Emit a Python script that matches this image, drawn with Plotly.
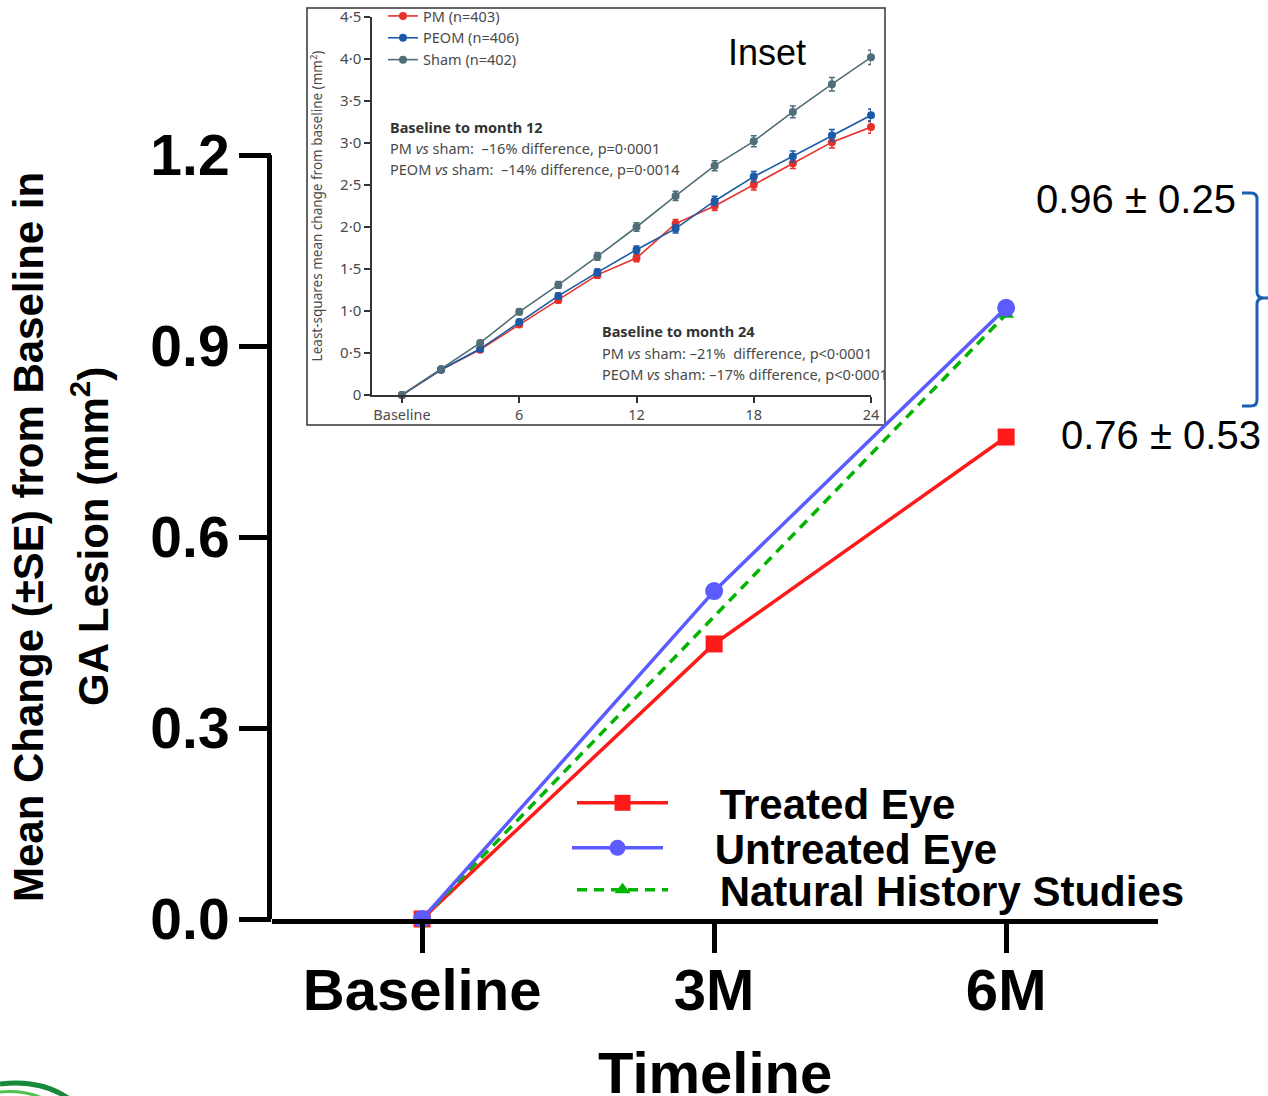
import plotly.graph_objects as go

# ---------------- Main chart data ----------------
timepoints = ["Baseline", "3M", "6M"]
treated_eye = [0.0, 0.432, 0.757]
untreated_eye = [0.0, 0.515, 0.960]
natural_x = ["Baseline", "6M"]
natural_history = [0.0, 0.950]
y_tick_vals = [0.0, 0.3, 0.6, 0.9, 1.2]
y_tick_text = ["0.0", "0.3", "0.6", "0.9", "1.2"]

# ---------------- Inset data ----------------
inset_months = [0, 2, 4, 6, 8, 10, 12, 14, 16, 18, 20, 22, 24]
pm_vals = [0.0, 0.30, 0.54, 0.84, 1.13, 1.43, 1.63, 2.04, 2.25, 2.50, 2.76, 3.01, 3.19]
pm_se = [0.0, 0.02, 0.03, 0.03, 0.035, 0.04, 0.045, 0.05, 0.055, 0.06, 0.065, 0.07, 0.075]
peom_vals = [0.0, 0.30, 0.55, 0.87, 1.18, 1.46, 1.73, 1.98, 2.31, 2.60, 2.84, 3.09, 3.33]
peom_se = [0.0, 0.02, 0.03, 0.03, 0.035, 0.04, 0.045, 0.05, 0.055, 0.06, 0.065, 0.07, 0.075]
sham_vals = [0.0, 0.31, 0.62, 0.99, 1.31, 1.65, 2.00, 2.37, 2.73, 3.02, 3.37, 3.70, 4.02]
sham_se = [0.0, 0.02, 0.03, 0.035, 0.04, 0.045, 0.05, 0.055, 0.06, 0.065, 0.07, 0.08, 0.085]
inset_x_ticks = [0, 6, 12, 18, 24]
inset_x_text = ["Baseline", "6", "12", "18", "24"]
inset_y_ticks = [0, 0.5, 1.0, 1.5, 2.0, 2.5, 3.0, 3.5, 4.0, 4.5]
inset_y_text = ["0", "0·5", "1·0", "1·5", "2·0", "2·5", "3·0", "3·5", "4·0", "4·5"]

# ---------------- Layout geometry helpers ----------------
W_FIG, H_FIG = 1268, 1096
PL, PR, PT, PB = 272, 1158, 8, 919
PW, PH = PR - PL, PB - PT


def px(x):
    return (x - PL) / PW


def py(y):
    return (PB - y) / PH


Y_ZERO_PX, Y_TOP_PX = 919, 155
y_top_range = 1.2 * (PB - PT) / (Y_ZERO_PX - Y_TOP_PX)

FONT = "Liberation Sans, Arial, Helvetica, sans-serif"
IFONT = "Noto Sans, Open Sans, sans-serif"
ICOL = "#4a4a4a"

RED = "#ff1a1a"
BLUE = "#5b5bff"
GREEN = "#00b400"
PAD = "\u00a0\u00a0\u00a0\u00a0"

fig = go.Figure()

# ---- main traces ----
fig.add_trace(go.Scatter(
    x=timepoints, y=treated_eye, mode="lines+markers", name=PAD + "Treated Eye",
    line=dict(color=RED, width=3.5), marker=dict(symbol="square", size=17, color=RED),
    cliponaxis=False, legend="legend", xaxis="x", yaxis="y"))
fig.add_trace(go.Scatter(
    x=natural_x, y=natural_history, mode="lines+markers", name=PAD + "Natural History Studies",
    line=dict(color=GREEN, width=3.5, dash="10px,7px"),
    marker=dict(symbol="triangle-up", size=14, color=GREEN),
    cliponaxis=False, legend="legend3", xaxis="x", yaxis="y"))
fig.add_trace(go.Scatter(
    x=timepoints, y=untreated_eye, mode="lines+markers", name=PAD + "Untreated Eye",
    line=dict(color=BLUE, width=3.5), marker=dict(symbol="circle", size=18, color=BLUE),
    cliponaxis=False, legend="legend2", xaxis="x", yaxis="y"))

# ---- inset traces ----
for name, vals, se, col in [
    ("PM (n=403)", pm_vals, pm_se, "#e8302a"),
    ("PEOM (n=406)", peom_vals, peom_se, "#1b5aa6"),
    ("Sham (n=402)", sham_vals, sham_se, "#4f6e78"),
]:
    fig.add_trace(go.Scatter(
        x=inset_months, y=vals, mode="lines+markers", name=name,
        line=dict(color=col, width=1.6), marker=dict(symbol="circle", size=8, color=col),
        error_y=dict(type="data", array=se, visible=True, color=col, thickness=1.5, width=3),
        cliponaxis=False, legend="legend4", xaxis="x2", yaxis="y2"))

# ---- shapes ----
shapes = []
# inset frame
shapes.append(dict(type="rect", xref="paper", yref="paper",
                   x0=px(307), x1=px(885), y0=py(425), y1=py(8),
                   line=dict(color="#333333", width=1.5), fillcolor="white", layer="below"))
# main y axis line (0 to 1.2)
shapes.append(dict(type="line", xref="paper", yref="y", x0=px(269.5), x1=px(269.5), y0=0, y1=1.2,
                   line=dict(color="black", width=5)))


def path_px(cmds):
    out = []
    for c in cmds:
        if isinstance(c, str):
            out.append(c)
        else:
            out.append(f"{px(c[0]):.5f},{py(c[1]):.5f}")
    return " ".join(out)


# bracket
bracket = path_px(["M", (1242, 193), "L", (1251, 193), "Q", (1257, 193), (1257, 199),
                   "L", (1257, 292), "Q", (1257, 298), (1264, 298), "L", (1272, 298),
                   "M", (1264, 298), "Q", (1257, 298), (1257, 304),
                   "L", (1257, 400), "Q", (1257, 406), (1251, 406), "L", (1242, 406)])
shapes.append(dict(type="path", xref="paper", yref="paper", path=bracket,
                   line=dict(color="#1a5fb4", width=3)))
# logo fragment bottom-left
shapes.append(dict(type="path", xref="paper", yref="paper",
                   path=path_px(["M", (0, 1084), "Q", (40, 1079), (68, 1098)]),
                   line=dict(color="#168a3a", width=5)))
shapes.append(dict(type="path", xref="paper", yref="paper",
                   path=path_px(["M", (0, 1092), "Q", (24, 1090), (42, 1098)]),
                   line=dict(color="#4fc24f", width=3)))

# ---- annotations ----
ann = []
ann.append(dict(text="Mean Change (±SE) from Baseline in", xref="paper", yref="y",
                x=px(28), y=0.6, textangle=-90, showarrow=False, xanchor="center", yanchor="middle",
                font=dict(family=FONT, size=42, color="black", weight="bold")))
ann.append(dict(text="GA Lesion (mm<sup>2</sup>)", xref="paper", yref="y",
                x=px(90), y=0.6, textangle=-90, showarrow=False, xanchor="center", yanchor="middle",
                font=dict(family=FONT, size=42, color="black", weight="bold")))
ann.append(dict(text="Timeline", xref="paper", yref="paper", x=px(715), y=py(1072),
                xanchor="center", yanchor="middle", showarrow=False,
                font=dict(family=FONT, size=58, color="black", weight="bold")))
ann.append(dict(text="0.96 ± 0.25", xref="paper", yref="paper", x=px(1238), y=py(199),
                xanchor="right", yanchor="middle", showarrow=False,
                font=dict(family=FONT, size=40, color="black")))
ann.append(dict(text="0.76 ± 0.53", xref="paper", yref="paper", x=px(1263), y=py(435),
                xanchor="right", yanchor="middle", showarrow=False,
                font=dict(family=FONT, size=40, color="black")))
ann.append(dict(text="Inset", xref="paper", yref="paper", x=px(767), y=py(52),
                xanchor="center", yanchor="middle", showarrow=False,
                font=dict(family=FONT, size=36, color="black")))
# inset texts
inset_texts = [
    ("<b>Baseline to month 12</b>", 388, 127),
    ("PM <i>vs</i> sham:  –16% difference, p=0·0001", 388, 148),
    ("PEOM <i>vs</i> sham:  –14% difference, p=0·0014", 388, 169),
    ("<b>Baseline to month 24</b>", 600, 331),
    ("PM <i>vs</i> sham: –21%  difference, p<0·0001", 600, 353),
    ("PEOM <i>vs</i> sham: –17% difference, p<0·0001", 600, 374),
]
for t, xx, yy in inset_texts:
    ann.append(dict(text=t, xref="paper", yref="paper", x=px(xx), y=py(yy),
                    xanchor="left", yanchor="middle", showarrow=False,
                    font=dict(family=IFONT, size=14.5, color=ICOL if "<b>" not in t else "#333333")))

legend_common = dict(bgcolor="rgba(0,0,0,0)", borderwidth=0, xanchor="left", yanchor="middle",
                     font=dict(family=FONT, size=42, color="black", weight="bold"),
                     itemwidth=91, itemsizing="trace")

fig.update_layout(
    width=W_FIG, height=H_FIG,
    margin=dict(l=PL, r=W_FIG - PR, t=PT, b=H_FIG - PB, autoexpand=False),
    paper_bgcolor="white", plot_bgcolor="white",
    showlegend=True,
    shapes=shapes, annotations=ann,
    xaxis=dict(type="category", categoryorder="array", categoryarray=timepoints,
               range=[-0.514, 2.52], domain=[0, 1], anchor="y",
               showline=True, linecolor="black", linewidth=5,
               ticks="outside", ticklen=29, tickwidth=5, tickcolor="black",
               showgrid=False, zeroline=False, ticklabelstandoff=-13,
               tickfont=dict(family=FONT, size=58, color="black", weight="bold")),
    yaxis=dict(range=[0, y_top_range], domain=[0, 1], anchor="x",
               showline=False, tickmode="array", tickvals=y_tick_vals, ticktext=y_tick_text,
               ticks="outside", ticklen=32, tickwidth=5, tickcolor="black",
               showgrid=False, zeroline=False, ticklabelstandoff=-2,
               tickfont=dict(family=FONT, size=57, color="black", weight="bold")),
    xaxis2=dict(domain=[px(372), px(871)], anchor="y2", range=[-1.535, 24],
                showline=True, linecolor="#333333", linewidth=1.5,
                ticks="outside", ticklen=6, tickwidth=1.5, tickcolor="#333333",
                tickmode="array", tickvals=inset_x_ticks, ticktext=inset_x_text,
                showgrid=False, zeroline=False,
                tickfont=dict(family=IFONT, size=14.5, color=ICOL)),
    yaxis2=dict(domain=[py(395), py(17)], anchor="x2", range=[0, 4.5],
                showline=True, linecolor="#333333", linewidth=1.5,
                ticks="outside", ticklen=6, tickwidth=1.5, tickcolor="#333333",
                tickmode="array", tickvals=inset_y_ticks, ticktext=inset_y_text,
                showgrid=False, zeroline=False,
                tickfont=dict(family=IFONT, size=15, color=ICOL),
                title=dict(text="Least-squares mean change from baseline (mm<sup>2</sup>)", standoff=14,
                           font=dict(family=IFONT, size=13.5, color=ICOL))),
    legend=dict(x=px(572), y=py(803), **legend_common),
    legend2=dict(x=px(567), y=py(848), **legend_common),
    legend3=dict(x=px(572), y=py(890), **legend_common),
    legend4=dict(x=px(383), y=py(0), xanchor="left", yanchor="top", bgcolor="rgba(0,0,0,0)",
                 borderwidth=0, tracegroupgap=0, itemwidth=30, traceorder="normal",
                 font=dict(family=IFONT, size=14.5, color=ICOL)),
)

fig.write_html("out.html")
